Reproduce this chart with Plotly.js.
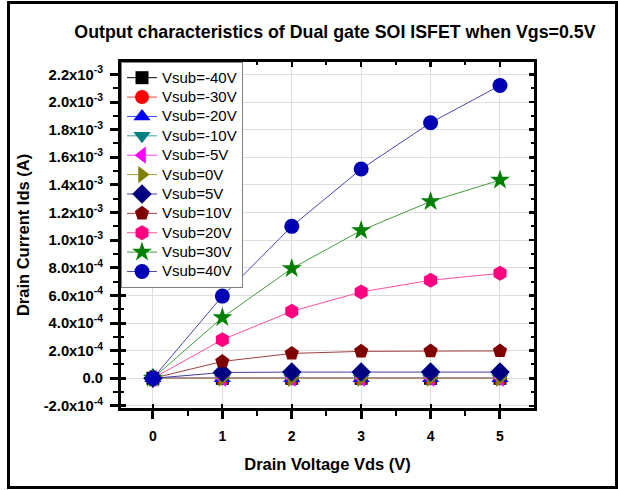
<!DOCTYPE html>
<html>
<head>
<meta charset="utf-8">
<script src="https://cdn.plot.ly/plotly-3.0.1.min.js"></script>
<style>
  html, body { margin: 0; padding: 0; background: #fff; }
  #chart { width: 618px; height: 490px; }
</style>
</head>
<body>
<div id="chart"></div>
<script>
// Drain voltage sweep (V)
const vds = [0, 1, 2, 3, 4, 5];

// Drain current (A) for each substrate bias
const idsM40 = [0, 0, 0, 0, 0, 0];
const idsM30 = [0, 0, 0, 0, 0, 0];
const idsM20 = [0, 0, 0, 0, 0, 0];
const idsM10 = [0, 0, 0, 0, 0, 0];
const idsM5  = [0, 0, 0, 0, 0, 0];
const ids0   = [0, 0, 0, 0, 0, 0];
const ids5   = [0, 4.2e-5, 4.5e-5, 4.5e-5, 4.5e-5, 4.5e-5];
const ids10  = [0, 1.22e-4, 1.8e-4, 1.95e-4, 1.97e-4, 1.98e-4];
const ids20  = [0, 2.8e-4, 4.85e-4, 6.25e-4, 7.1e-4, 7.6e-4];
const ids30  = [0, 4.4e-4, 7.95e-4, 1.07e-3, 1.28e-3, 1.435e-3];
const ids40  = [0, 5.95e-4, 1.1e-3, 1.515e-3, 1.85e-3, 2.12e-3];

const seriesNames = ['Vsub=-40V', 'Vsub=-30V', 'Vsub=-20V', 'Vsub=-10V', 'Vsub=-5V',
  'Vsub=0V', 'Vsub=5V', 'Vsub=10V', 'Vsub=20V', 'Vsub=30V', 'Vsub=40V'];
const seriesData = [idsM40, idsM30, idsM20, idsM10, idsM5, ids0, ids5, ids10, ids20, ids30, ids40];

// Y tick labels
const yTickVals = [-2.0e-4, 0, 2.0e-4, 4.0e-4, 6.0e-4, 8.0e-4, 1.0e-3, 1.2e-3, 1.4e-3,
  1.6e-3, 1.8e-3, 2.0e-3, 2.2e-3];
const yTickText = ['-2.0x10<sup>-4</sup>', '0.0', '2.0x10<sup>-4</sup>', '4.0x10<sup>-4</sup>',
  '6.0x10<sup>-4</sup>', '8.0x10<sup>-4</sup>', '1.0x10<sup>-3</sup>', '1.2x10<sup>-3</sup>',
  '1.4x10<sup>-3</sup>', '1.6x10<sup>-3</sup>', '1.8x10<sup>-3</sup>', '2.0x10<sup>-3</sup>',
  '2.2x10<sup>-3</sup>'];
const xTickVals = [0, 1, 2, 3, 4, 5];

// Marker styling per series
const styles = [
  { symbol: 'square',         color: '#000000', line: '#000000', size: 13 },
  { symbol: 'circle',         color: '#ff0000', line: '#ff4040', size: 14 },
  { symbol: 'triangle-up',    color: '#0000ff', line: '#4040ff', size: 15 },
  { symbol: 'triangle-down',  color: '#008080', line: '#40a0a0', size: 15 },
  { symbol: 'triangle-left',  color: '#ff00ff', line: '#ff40ff', size: 15 },
  { symbol: 'triangle-right', color: '#808000', line: '#a0a040', size: 15 },
  { symbol: 'diamond',        color: '#000080', line: '#4040a0', size: 15 },
  { symbol: 'pentagon',       color: '#800000', line: '#a04040', size: 15 },
  { symbol: 'hexagon',        color: '#ff0080', line: '#ff50a0', size: 15 },
  { symbol: 'star',           color: '#008000', line: '#40a040', size: 15 },
  { symbol: 'circle',         color: '#0000b4', line: '#4848b0', size: 15 }
];

// legend entries are drawn a little larger than the legend's row font
const legendLabel = name => '<span style="font-size:15px">' + name + '</span>';

const traces = seriesData.map((ys, i) => {
  const s = styles[i];
  return {
    x: vds, y: ys, name: legendLabel(seriesNames[i]), type: 'scatter', mode: 'lines+markers',
    line: { color: s.line, width: 1 },
    marker: { symbol: s.symbol, color: s.color, size: s.size, line: { width: 0 } }
  };
});

const font = 'Arial, "Liberation Sans", sans-serif';
const xRange = [-0.46, 5.49];
const yRange = [-2.15e-4, 2.29e-3];

// Plot area geometry (px) used to place the outer frame in paper coordinates
const W = 618, H = 490, mL = 121, mR = 84, mT = 62, mB = 82;
const pw = W - mL - mR, ph = H - mT - mB;
const px = v => (v - mL) / pw;
const py = v => (H - mB - v) / ph;

const layout = {
  width: W, height: H,
  margin: { l: mL, r: mR, t: mT, b: mB, pad: 0 },
  paper_bgcolor: '#ffffff', plot_bgcolor: '#ffffff',
  font: { family: font, color: '#000' },
  showlegend: true,
  title: {
    text: 'Output characteristics of Dual gate SOI ISFET when Vgs=0.5V',
    font: { family: font, size: 17.8, weight: 'bold', color: '#000' },
    x: 0.542, xanchor: 'center', y: 0.935, yanchor: 'middle'
  },
  xaxis: {
    range: xRange, tickvals: xTickVals, ticks: 'outside', ticklen: 8, tickwidth: 3,
    tickcolor: '#000', showline: true, linewidth: 3, linecolor: '#000', mirror: true,
    showgrid: true, gridcolor: '#dedede', gridwidth: 1, zeroline: false,
    ticklabelstandoff: 5,
    tickfont: { family: font, size: 14, weight: 'bold' },
    minor: { dtick: 0.5, tick0: 0.5, ticks: 'outside', ticklen: 5, tickwidth: 2, tickcolor: '#000', showgrid: false },
    title: { text: 'Drain Voltage Vds (V)', font: { family: font, size: 16.5, weight: 'bold' }, standoff: 16 }
  },
  yaxis: {
    range: yRange, tickvals: yTickVals, ticktext: yTickText, ticks: 'outside', ticklen: 8, tickwidth: 3,
    tickcolor: '#000', showline: true, linewidth: 3, linecolor: '#000', mirror: true,
    showgrid: true, gridcolor: '#dedede', gridwidth: 1, zeroline: false,
    ticklabelstandoff: 4,
    tickfont: { family: font, size: 14.8, weight: 'bold' },
    minor: { dtick: 1.0e-4, tick0: -1.0e-4, ticks: 'outside', ticklen: 5, tickwidth: 2, tickcolor: '#000', showgrid: false },
    title: { text: 'Drain Current Ids (A)', font: { family: font, size: 16.5, weight: 'bold' }, standoff: 10 }
  },
  // inner ticks on the left and bottom edges
  xaxis3: {
    overlaying: 'x', side: 'bottom', range: xRange, tickvals: xTickVals, ticks: 'inside', ticklen: 4,
    tickwidth: 2, tickcolor: '#000', showticklabels: false, showgrid: false, zeroline: false, showline: false
  },
  yaxis3: {
    overlaying: 'y', side: 'left', range: yRange, tickvals: yTickVals, ticks: 'inside', ticklen: 5,
    tickwidth: 3, tickcolor: '#000', showticklabels: false, showgrid: false, zeroline: false, showline: false,
    minor: { dtick: 1.0e-4, tick0: -1.0e-4, ticks: 'inside', ticklen: 3, tickwidth: 2, tickcolor: '#000', showgrid: false }
  },
  // inner ticks on the top and right edges
  xaxis2: {
    overlaying: 'x', side: 'top', range: xRange, tickvals: xTickVals, ticks: 'inside', ticklen: 5,
    tickwidth: 2.5, tickcolor: '#000', showticklabels: false, showgrid: false, zeroline: false, showline: false,
    minor: { dtick: 0.5, tick0: 0.5, ticks: 'inside', ticklen: 3, tickwidth: 2, tickcolor: '#000', showgrid: false }
  },
  yaxis2: {
    overlaying: 'y', side: 'right', range: yRange, tickvals: yTickVals, ticks: 'inside', ticklen: 5,
    tickwidth: 2.5, tickcolor: '#000', showticklabels: false, showgrid: false, zeroline: false, showline: false,
    minor: { dtick: 1.0e-4, tick0: -1.0e-4, ticks: 'inside', ticklen: 3, tickwidth: 2, tickcolor: '#000', showgrid: false }
  },
  legend: {
    x: 0, y: 1, xanchor: 'left', yanchor: 'top',
    bgcolor: '#ffffff', bordercolor: '#808080', borderwidth: 1,
    font: { family: font, size: 12.6, color: '#000' },
    tracegroupgap: 0, itemwidth: 30
  },
  shapes: [{
    type: 'rect', xref: 'paper', yref: 'paper', layer: 'above',
    x0: px(8.5), x1: px(616.5), y0: py(487.5), y1: py(2.5),
    line: { color: '#000', width: 3 }, fillcolor: 'rgba(0,0,0,0)'
  }]
};

// placeholder traces so the overlay tick axes are drawn
const axisHolders = [
  { x: [null], y: [null], xaxis: 'x2', yaxis: 'y2', showlegend: false, hoverinfo: 'skip', type: 'scatter' },
  { x: [null], y: [null], xaxis: 'x3', yaxis: 'y3', showlegend: false, hoverinfo: 'skip', type: 'scatter' }
];

Plotly.newPlot('chart', traces.concat(axisHolders), layout, { displayModeBar: false, staticPlot: true });
</script>
</body>
</html>
